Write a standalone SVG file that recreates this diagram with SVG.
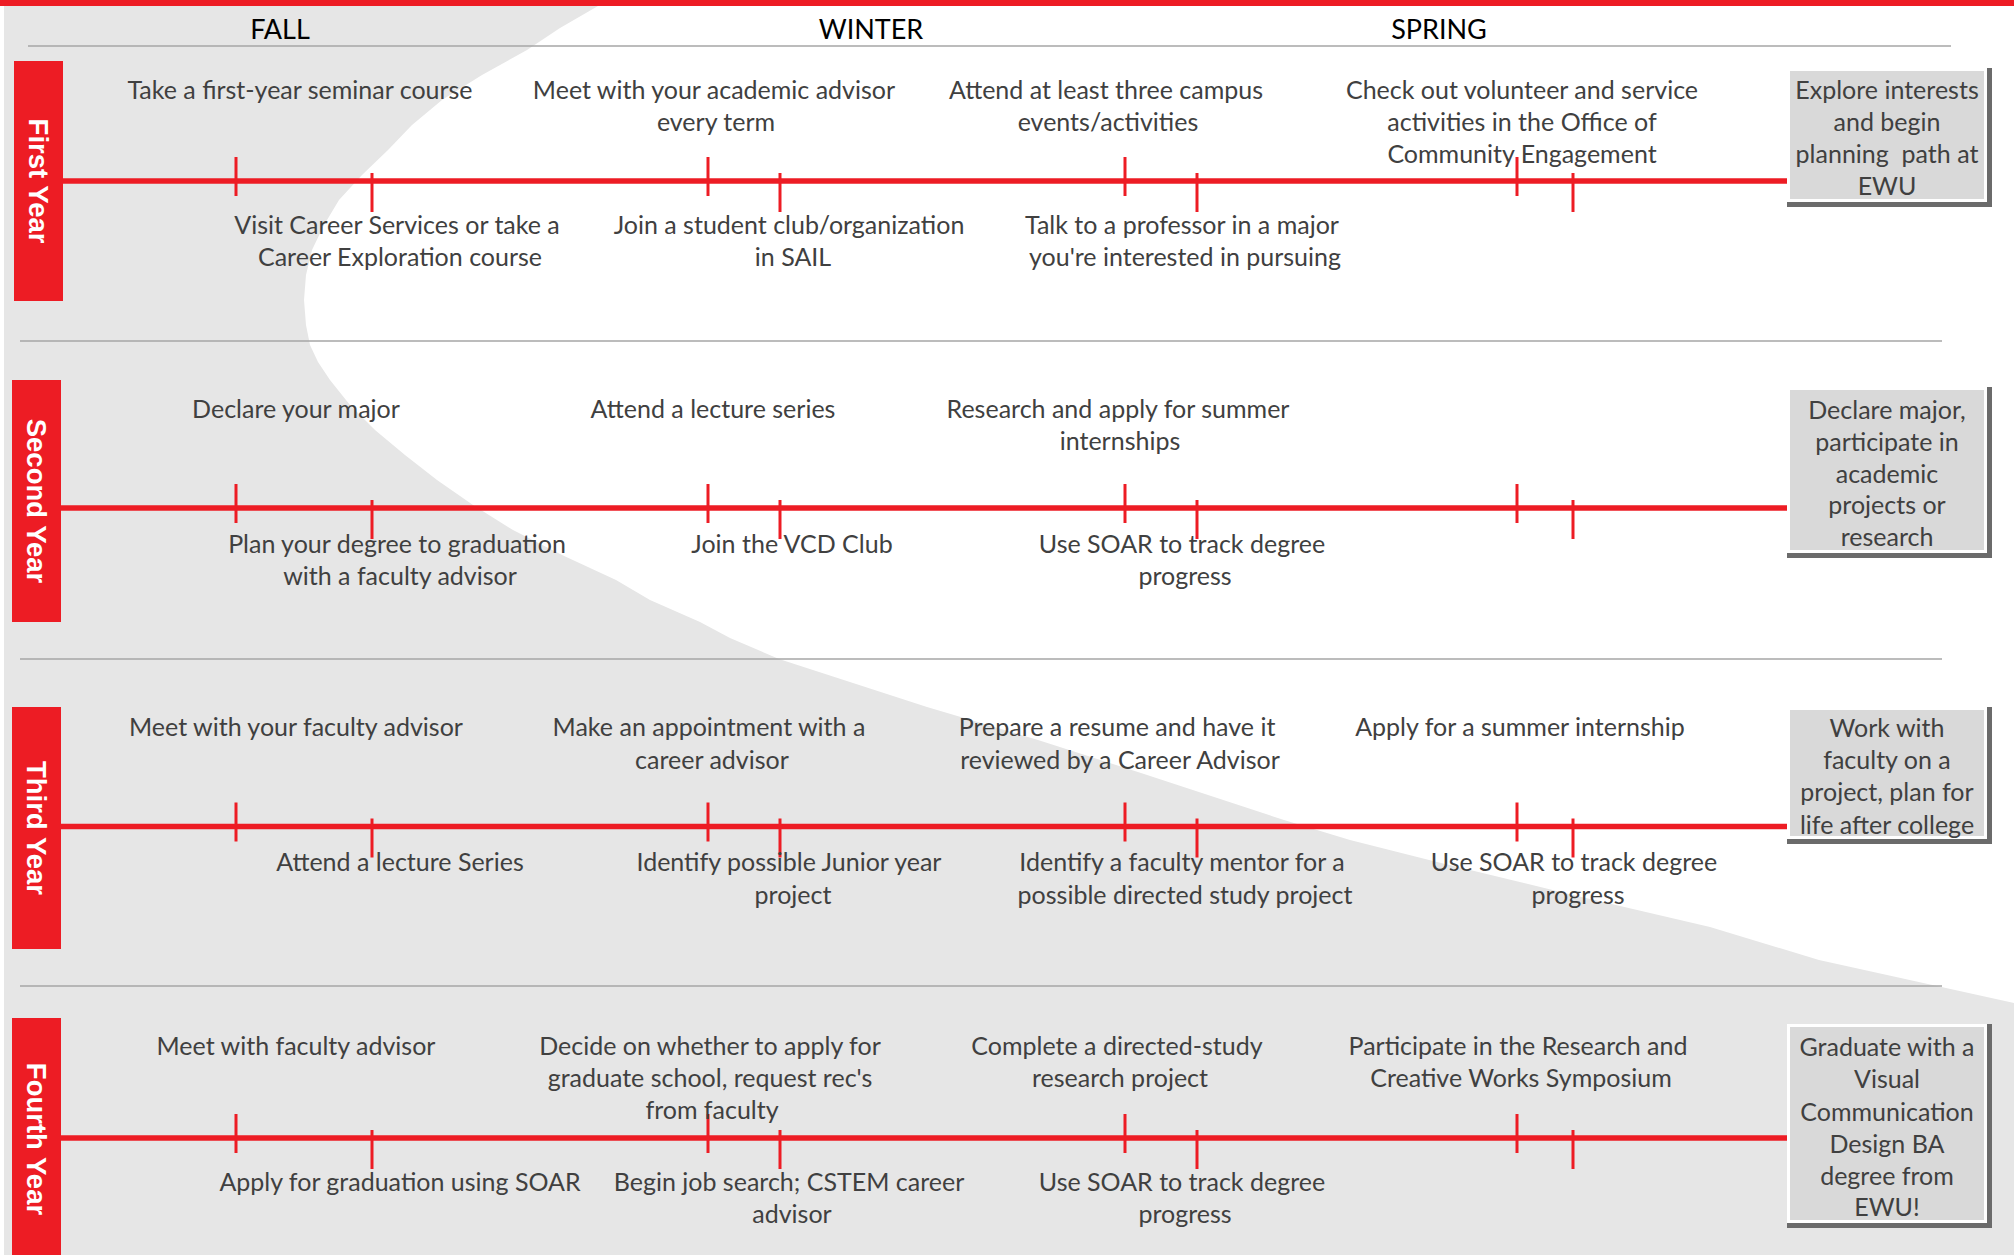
<svg xmlns="http://www.w3.org/2000/svg" width="2014" height="1255" viewBox="0 0 2014 1255">
<style>
.t{font-family:Lato,'Liberation Sans',sans-serif;font-size:25px;fill:#404040;text-anchor:middle}
.h{font-family:Lato,'Liberation Sans',sans-serif;font-size:27px;fill:#000;text-anchor:middle}
.yl{font-family:'Liberation Sans',Arial,sans-serif;font-weight:bold;font-size:27.5px;fill:#fff;text-anchor:middle}
.sep{stroke:#a6a6a6;stroke-width:1.5}
.tl{stroke:#ed1c24;stroke-width:5.5}
.tk{stroke:#ed1c24;stroke-width:3}
.lbl{fill:#ed1c24}
.bxd{fill:#6b6b6b}
.bx{fill:#d9d9d9;stroke:#fff;stroke-width:3}
</style>
<rect x="0" y="0" width="2014" height="1255" fill="#fff"/>
<path fill="#e6e6e6" d="M4,6 L598,6 L560,28 L527,50 L482,75 L442,100 L412,125 L388,150 L362,175 L339,200 L324,225 L312,250 L306,275 L304,300 L306,325 L310,345 L318,362 L330,380 L350,405 L375,430 L405,455 L437,480 L473,505 L513,530 L562,555 L616,580 L650,600 L700,622 L730,638 L779,659 L927,707 L1038,740 L1141,773 L1284,820 L1350,840 L1437,862 L1573,895 L1710,927 L1819,960 L2014,1003 L2014,1255 L4,1255 Z"/>
<rect x="0" y="0" width="2014" height="6" fill="#ed1c24"/>
<g id="header">
<line class="sep" x1="28" y1="46" x2="1951" y2="46"/>
<text class="h" x="280" y="39">FALL</text>
<text class="h" x="871" y="39">WINTER</text>
<text class="h" x="1439" y="39">SPRING</text>
</g>
<g id="separators">
<line class="sep" x1="20" y1="341" x2="1942" y2="341"/>
<line class="sep" x1="20" y1="659" x2="1942" y2="659"/>
<line class="sep" x1="20" y1="986" x2="1942" y2="986"/>
</g>
<g id="connectors">
<line class="tl" x1="63" y1="181" x2="1787" y2="181"/>
<line class="tl" x1="61" y1="508" x2="1787" y2="508"/>
<line class="tl" x1="61" y1="826.5" x2="1787" y2="826.5"/>
<line class="tl" x1="61" y1="1138" x2="1787" y2="1138"/>
<g id="ticks-y1">
<line class="tk" x1="236" y1="157" x2="236" y2="196"/><line class="tk" x1="372" y1="173" x2="372" y2="212"/>
<line class="tk" x1="708" y1="157" x2="708" y2="196"/><line class="tk" x1="780" y1="173" x2="780" y2="212"/>
<line class="tk" x1="1125" y1="157" x2="1125" y2="196"/><line class="tk" x1="1197" y1="173" x2="1197" y2="212"/>
<line class="tk" x1="1517" y1="157" x2="1517" y2="196"/><line class="tk" x1="1573" y1="173" x2="1573" y2="212"/>
</g>
<g id="ticks-y2">
<line class="tk" x1="236" y1="484" x2="236" y2="523"/><line class="tk" x1="372" y1="500" x2="372" y2="539"/>
<line class="tk" x1="708" y1="484" x2="708" y2="523"/><line class="tk" x1="780" y1="500" x2="780" y2="539"/>
<line class="tk" x1="1125" y1="484" x2="1125" y2="523"/><line class="tk" x1="1197" y1="500" x2="1197" y2="539"/>
<line class="tk" x1="1517" y1="484" x2="1517" y2="523"/><line class="tk" x1="1573" y1="500" x2="1573" y2="539"/>
</g>
<g id="ticks-y3">
<line class="tk" x1="236" y1="802.5" x2="236" y2="841.5"/><line class="tk" x1="372" y1="818.5" x2="372" y2="857.5"/>
<line class="tk" x1="708" y1="802.5" x2="708" y2="841.5"/><line class="tk" x1="780" y1="818.5" x2="780" y2="857.5"/>
<line class="tk" x1="1125" y1="802.5" x2="1125" y2="841.5"/><line class="tk" x1="1197" y1="818.5" x2="1197" y2="857.5"/>
<line class="tk" x1="1517" y1="802.5" x2="1517" y2="841.5"/><line class="tk" x1="1573" y1="818.5" x2="1573" y2="857.5"/>
</g>
<g id="ticks-y4">
<line class="tk" x1="236" y1="1114" x2="236" y2="1153"/><line class="tk" x1="372" y1="1130" x2="372" y2="1169"/>
<line class="tk" x1="708" y1="1114" x2="708" y2="1153"/><line class="tk" x1="780" y1="1130" x2="780" y2="1169"/>
<line class="tk" x1="1125" y1="1114" x2="1125" y2="1153"/><line class="tk" x1="1197" y1="1130" x2="1197" y2="1169"/>
<line class="tk" x1="1517" y1="1114" x2="1517" y2="1153"/><line class="tk" x1="1573" y1="1130" x2="1573" y2="1169"/>
</g>
</g>
<g id="label-first-year">
<rect class="lbl" x="14" y="61" width="49" height="240"/>
<text class="yl" transform="translate(29,181) rotate(90)">First Year</text>
</g>
<g id="label-second-year">
<rect class="lbl" x="12" y="380" width="49" height="242"/>
<text class="yl" transform="translate(27,501) rotate(90)">Second Year</text>
</g>
<g id="label-third-year">
<rect class="lbl" x="12" y="707" width="49" height="242"/>
<text class="yl" transform="translate(27,828) rotate(90)">Third Year</text>
</g>
<g id="label-fourth-year">
<rect class="lbl" x="12" y="1018" width="49" height="242"/>
<text class="yl" transform="translate(27,1139) rotate(90)">Fourth Year</text>
</g>
<g id="row1-items" transform="translate(0,1)">
<text class="t" x="300" y="98">Take a first-year seminar course</text>
<text class="t" y="98"><tspan x="714">Meet with your academic advisor</tspan><tspan x="716" y="130">every term</tspan></text>
<text class="t" y="98"><tspan x="1106">Attend at least three campus</tspan><tspan x="1108" y="130">events/activities</tspan></text>
<text class="t" y="98"><tspan x="1522">Check out volunteer and service</tspan><tspan x="1522" y="130">activities in the Office of</tspan><tspan x="1522" y="162">Community Engagement</tspan></text>
<text class="t" y="233"><tspan x="397">Visit Career Services or take a</tspan><tspan x="400" y="265">Career Exploration course</tspan></text>
<text class="t" y="233"><tspan x="789">Join a student club/organization</tspan><tspan x="793" y="265">in SAIL</tspan></text>
<text class="t" y="233"><tspan x="1182">Talk to a professor in a major</tspan><tspan x="1185" y="265">you're interested in pursuing</tspan></text>
</g>
<g id="row2-items" transform="translate(0,1)">
<text class="t" x="296" y="417">Declare your major</text>
<text class="t" x="713" y="417">Attend a lecture series</text>
<text class="t" y="417"><tspan x="1118">Research and apply for summer</tspan><tspan x="1120" y="449">internships</tspan></text>
<text class="t" y="552"><tspan x="397">Plan your degree to graduation</tspan><tspan x="400" y="584">with a faculty advisor</tspan></text>
<text class="t" x="792" y="552">Join the VCD Club</text>
<text class="t" y="552"><tspan x="1182">Use SOAR to track degree</tspan><tspan x="1185" y="584">progress</tspan></text>
</g>
<g id="row3-items" transform="translate(0,1)">
<text class="t" x="296" y="735">Meet with your faculty advisor</text>
<text class="t" y="735"><tspan x="709">Make an appointment with a</tspan><tspan x="712" y="768">career advisor</tspan></text>
<text class="t" y="735"><tspan x="1117">Prepare a resume and have it</tspan><tspan x="1120" y="768">reviewed by a Career Advisor</tspan></text>
<text class="t" x="1520" y="735">Apply for a summer internship</text>
<text class="t" x="400" y="870">Attend a lecture Series</text>
<text class="t" y="870"><tspan x="789">Identify possible Junior year</tspan><tspan x="793" y="903">project</tspan></text>
<text class="t" y="870"><tspan x="1182">Identify a faculty mentor for a</tspan><tspan x="1185" y="903">possible directed study project</tspan></text>
<text class="t" y="870"><tspan x="1574">Use SOAR to track degree</tspan><tspan x="1578" y="903">progress</tspan></text>
</g>
<g id="row4-items" transform="translate(0,1)">
<text class="t" x="296" y="1054">Meet with faculty advisor</text>
<text class="t" y="1054"><tspan x="710">Decide on whether to apply for</tspan><tspan x="710" y="1086">graduate school, request rec's</tspan><tspan x="712" y="1118">from faculty</tspan></text>
<text class="t" y="1054"><tspan x="1117">Complete a directed-study</tspan><tspan x="1120" y="1086">research project</tspan></text>
<text class="t" y="1054"><tspan x="1518">Participate in the Research and</tspan><tspan x="1521" y="1086">Creative Works Symposium</tspan></text>
<text class="t" x="400" y="1190">Apply for graduation using SOAR</text>
<text class="t" y="1190"><tspan x="789">Begin job search; CSTEM career</tspan><tspan x="792" y="1222">advisor</tspan></text>
<text class="t" y="1190"><tspan x="1182">Use SOAR to track degree</tspan><tspan x="1185" y="1222">progress</tspan></text>
</g>
<g id="goal-first-year">
<rect class="bxd" x="1787" y="68" width="205" height="139"/>
<rect class="bx" x="1788.5" y="69.5" width="197" height="131"/>
<text class="t" y="99"><tspan x="1887">Explore interests</tspan><tspan x="1887" y="131">and begin</tspan><tspan x="1887" y="163">planning&#160; path at</tspan><tspan x="1887" y="195">EWU</tspan></text>
</g>
<g id="goal-second-year">
<rect class="bxd" x="1787" y="387" width="205" height="171"/>
<rect class="bx" x="1788.5" y="388.5" width="197" height="163"/>
<text class="t" y="419"><tspan x="1887">Declare major,</tspan><tspan x="1887" y="451">participate in</tspan><tspan x="1887" y="483">academic</tspan><tspan x="1887" y="514">projects or</tspan><tspan x="1887" y="546">research</tspan></text>
</g>
<g id="goal-third-year">
<rect class="bxd" x="1787" y="707" width="205" height="137"/>
<rect class="bx" x="1788.5" y="708.5" width="197" height="129"/>
<text class="t" y="737"><tspan x="1887">Work with</tspan><tspan x="1887" y="769">faculty on a</tspan><tspan x="1887" y="801">project, plan for</tspan><tspan x="1887" y="834">life after college</tspan></text>
</g>
<g id="goal-fourth-year">
<rect class="bxd" x="1787" y="1024" width="205" height="204"/>
<rect class="bx" x="1788.5" y="1025.5" width="197" height="196"/>
<text class="t" y="1056"><tspan x="1887">Graduate with a</tspan><tspan x="1887" y="1088">Visual</tspan><tspan x="1887" y="1121">Communication</tspan><tspan x="1887" y="1153">Design BA</tspan><tspan x="1887" y="1185">degree from</tspan><tspan x="1887" y="1216">EWU!</tspan></text>
</g>
</svg>
